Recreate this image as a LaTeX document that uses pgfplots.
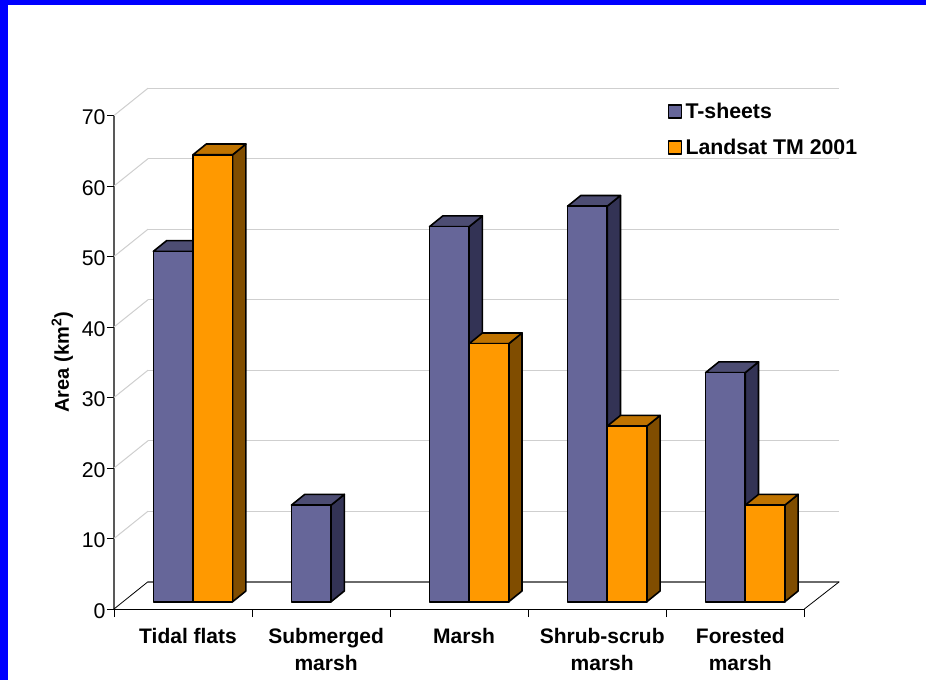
\documentclass[border=0pt]{standalone}
\usepackage{pgfplots}
\pgfplotsset{compat=1.18}
\usepackage{fontspec}
\setmainfont{Liberation Sans}
\definecolor{bluef}{HTML}{666699}
\definecolor{bluet}{HTML}{4D4D73}
\definecolor{blues}{HTML}{333355}
\definecolor{oranf}{HTML}{FF9900}
\definecolor{orant}{HTML}{BF7300}
\definecolor{orans}{HTML}{804D00}
\definecolor{frameblue}{HTML}{0000FF}
\definecolor{gridc}{HTML}{CFCFCF}
\definecolor{floorc}{HTML}{6A6A6A}
\begin{document}
\begin{tikzpicture}[x=1pt,y=1pt]
\useasboundingbox (0,0) rectangle (926,680);
\fill[white] (0,0) rectangle (926,680);
\fill[frameblue] (0,0) rectangle (8,680);
\fill[frameblue] (0,675) rectangle (926,680);
% frame: walls, floor, ticks, labels
\begin{axis}[
  at={(114pt,71pt)}, anchor=south west,
  scale only axis, width=690.3pt, height=493.5pt,
  xmin=-0.5, xmax=4.5, ymin=0, ymax=70,
  clip=false,
  axis x line=bottom, axis y line=left,
  x axis line style={-,black,line width=0.8pt},
  y axis line style={-,draw=black!65,line width=1.2pt},
  xtick={0,1,2,3,4},
  xticklabels={{Tidal flats},{Submerged\\marsh},{Marsh},{Shrub-scrub\\marsh},{Forested\\marsh}},
  minor xtick={-0.5,0.5,1.5,2.5,3.5,4.5},
  ytick={0,10,20,30,40,50,60,70},
  tick align=outside,
  major tick length=0pt,
  tick style={black,line width=0.8pt},
  ytick style={black,line width=0.8pt},
  minor tick length=8pt,
  y tick label style={font=\fontsize{21.3}{24}\selectfont,xshift=-5pt,yshift=-2pt},
  x tick label style={font=\fontsize{21}{26.6}\selectfont\bfseries,align=center,anchor=north,xshift=5pt,yshift=-16pt},
  /pgf/number format/assume math mode=true,
  extra y ticks={0,10,20,30,40,50,60,70},
  extra y tick labels={},
  extra y tick style={major tick length=7pt,tick style={black,line width=0.8pt}},
  ylabel={Area (km\textsuperscript{2})},
  ylabel style={font=\fontsize{20}{24}\selectfont\bfseries,at={(axis description cs:-0.075,0.5)},anchor=center,rotate=0},
]
% back wall grid
\addplot[gridc,line width=1.3pt] coordinates {(-0.2537,13.87)(4.7537,13.87)};
\addplot[gridc,line width=1.3pt] coordinates {(-0.2537,23.87)(4.7537,23.87)};
\addplot[gridc,line width=1.3pt] coordinates {(-0.2537,33.87)(4.7537,33.87)};
\addplot[gridc,line width=1.3pt] coordinates {(-0.2537,43.87)(4.7537,43.87)};
\addplot[gridc,line width=1.3pt] coordinates {(-0.2537,53.87)(4.7537,53.87)};
\addplot[gridc,line width=1.3pt] coordinates {(-0.2537,63.87)(4.7537,63.87)};
\addplot[gridc,line width=1.3pt] coordinates {(-0.2537,73.87)(4.7537,73.87)};
% side wall grid
\addplot[gridc,line width=1pt] coordinates {(-0.5,10)(-0.2537,13.87)};
\addplot[gridc,line width=1pt] coordinates {(-0.5,20)(-0.2537,23.87)};
\addplot[gridc,line width=1pt] coordinates {(-0.5,30)(-0.2537,33.87)};
\addplot[gridc,line width=1pt] coordinates {(-0.5,40)(-0.2537,43.87)};
\addplot[gridc,line width=1pt] coordinates {(-0.5,50)(-0.2537,53.87)};
\addplot[gridc,line width=1pt] coordinates {(-0.5,60)(-0.2537,63.87)};
\addplot[gridc,line width=1pt] coordinates {(-0.5,70)(-0.2537,73.87)};
% floor
\addplot[floorc,line width=2pt] coordinates {(-0.2537,3.87)(4.7537,3.87)};
\addplot[black,line width=0.8pt] coordinates {(-0.5,0)(-0.2537,3.87)};
\addplot[black,line width=0.8pt] coordinates {(4.5,0)(4.7537,3.87)};
\end{axis}
% bars
\begin{axis}[
  at={(124pt,78.3pt)}, anchor=south west,
  scale only axis, width=690.3pt, height=493.5pt,
  xmin=-0.5, xmax=4.5, ymin=0, ymax=70,
  clip=false, hide axis,
  legend style={draw=none,fill=none,at={(0.788,1.0108)},anchor=north west,
    font=\fontsize{21.3}{24}\selectfont\bfseries,
    row sep=19pt, inner sep=0pt, outer sep=0pt,
    /tikz/every even column/.append style={column sep=5pt},
    nodes={inner sep=0pt,anchor=west}},
  legend image code/.code={\draw[#1,line width=1.5pt] (0pt,-6.5pt) rectangle (13pt,6.5pt);\path (16pt,0pt);},
  legend cell align=left,
  every axis plot/.append style={draw=black,line width=1.6pt,line join=round},
]
% T-sheets: side and top faces
\addplot[fill=blues,forget plot] coordinates {(0,0)(0.096,1.52)(0.096,51.22)(0,49.7)} --cycle;
\addplot[fill=bluet,forget plot] coordinates {(-0.287,49.7)(0,49.7)(0.096,51.22)(-0.191,51.22)} --cycle;
\addplot[fill=blues,forget plot] coordinates {(1,0)(1.096,1.52)(1.096,15.22)(1,13.7)} --cycle;
\addplot[fill=bluet,forget plot] coordinates {(0.713,13.7)(1,13.7)(1.096,15.22)(0.809,15.22)} --cycle;
\addplot[fill=blues,forget plot] coordinates {(2,0)(2.096,1.52)(2.096,54.72)(2,53.2)} --cycle;
\addplot[fill=bluet,forget plot] coordinates {(1.713,53.2)(2,53.2)(2.096,54.72)(1.809,54.72)} --cycle;
\addplot[fill=blues,forget plot] coordinates {(3,0)(3.096,1.52)(3.096,57.62)(3,56.1)} --cycle;
\addplot[fill=bluet,forget plot] coordinates {(2.713,56.1)(3,56.1)(3.096,57.62)(2.809,57.62)} --cycle;
\addplot[fill=blues,forget plot] coordinates {(4,0)(4.096,1.52)(4.096,34.02)(4,32.5)} --cycle;
\addplot[fill=bluet,forget plot] coordinates {(3.713,32.5)(4,32.5)(4.096,34.02)(3.809,34.02)} --cycle;
% T-sheets: front faces
\addplot[ybar,bar width=39.6pt,bar shift=-19.8pt,fill=bluef]
  coordinates {(0,49.7)(1,13.7)(2,53.2)(3,56.1)(4,32.5)};
\addlegendentry{T-sheets}
% Landsat: side and top faces
\addplot[fill=orans,forget plot] coordinates {(0.287,0)(0.383,1.52)(0.383,64.92)(0.287,63.4)} --cycle;
\addplot[fill=orant,forget plot] coordinates {(0,63.4)(0.287,63.4)(0.383,64.92)(0.096,64.92)} --cycle;
\addplot[fill=orans,forget plot] coordinates {(2.287,0)(2.383,1.52)(2.383,38.12)(2.287,36.6)} --cycle;
\addplot[fill=orant,forget plot] coordinates {(2,36.6)(2.287,36.6)(2.383,38.12)(2.096,38.12)} --cycle;
\addplot[fill=orans,forget plot] coordinates {(3.287,0)(3.383,1.52)(3.383,26.42)(3.287,24.9)} --cycle;
\addplot[fill=orant,forget plot] coordinates {(3,24.9)(3.287,24.9)(3.383,26.42)(3.096,26.42)} --cycle;
\addplot[fill=orans,forget plot] coordinates {(4.287,0)(4.383,1.52)(4.383,15.22)(4.287,13.7)} --cycle;
\addplot[fill=orant,forget plot] coordinates {(4,13.7)(4.287,13.7)(4.383,15.22)(4.096,15.22)} --cycle;
% Landsat: front faces
\addplot[ybar,bar width=39.6pt,bar shift=19.8pt,fill=oranf]
  coordinates {(0,63.4)(2,36.6)(3,24.9)(4,13.7)};
\addlegendentry{Landsat TM 2001}
\end{axis}
\end{tikzpicture}
\end{document}
